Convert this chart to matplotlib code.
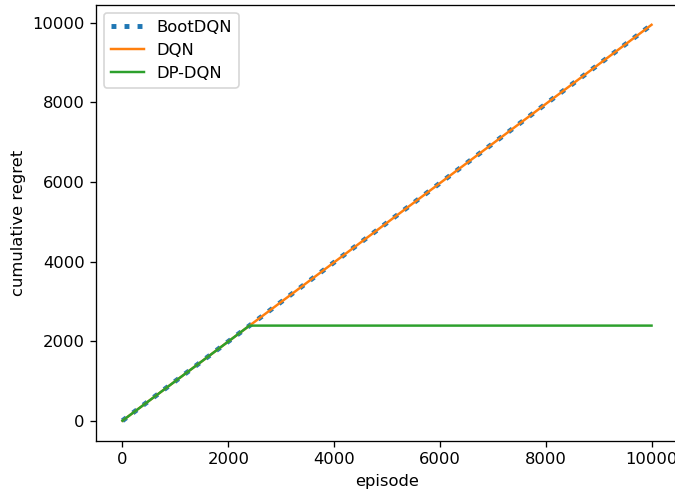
import matplotlib
matplotlib.use("Agg")
import matplotlib.pyplot as plt

# episodes checkpoints and cumulative regret
episodes = [0, 1000, 2000, 3000, 4000, 5000, 6000, 7000, 8000, 9000, 10000]
boot_dqn = [0, 995, 1990, 2985, 3980, 4975, 5970, 6965, 7960, 8955, 9950]
dqn = [0, 995, 1990, 2985, 3980, 4975, 5970, 6965, 7960, 8955, 9950]

dp_episodes = [0, 1000, 2000, 2400, 3000, 4000, 5000, 6000, 7000, 8000, 9000, 10000]
dp_dqn = [0, 995, 1990, 2390, 2390, 2390, 2390, 2390, 2390, 2390, 2390, 2390]

W, H, DPI = 675, 489, 118
fig = plt.figure(figsize=(W / DPI, H / DPI), dpi=DPI)
ax = fig.add_axes([96 / W, (H - 440.5) / H, (678 - 96) / W, (440.5 - 5) / H])

ax.plot(episodes, boot_dqn, linestyle=":", linewidth=3, label="BootDQN")
ax.plot(episodes, dqn, label="DQN")
ax.plot(dp_episodes, dp_dqn, label="DP-DQN")

ax.set_xlabel("episode")
ax.set_ylabel("cumulative regret")
ax.legend(loc="upper left")
# the screenshot is cropped just before the right frame line
ax.spines["right"].set_visible(False)

fig.savefig("out.png", dpi=DPI)
